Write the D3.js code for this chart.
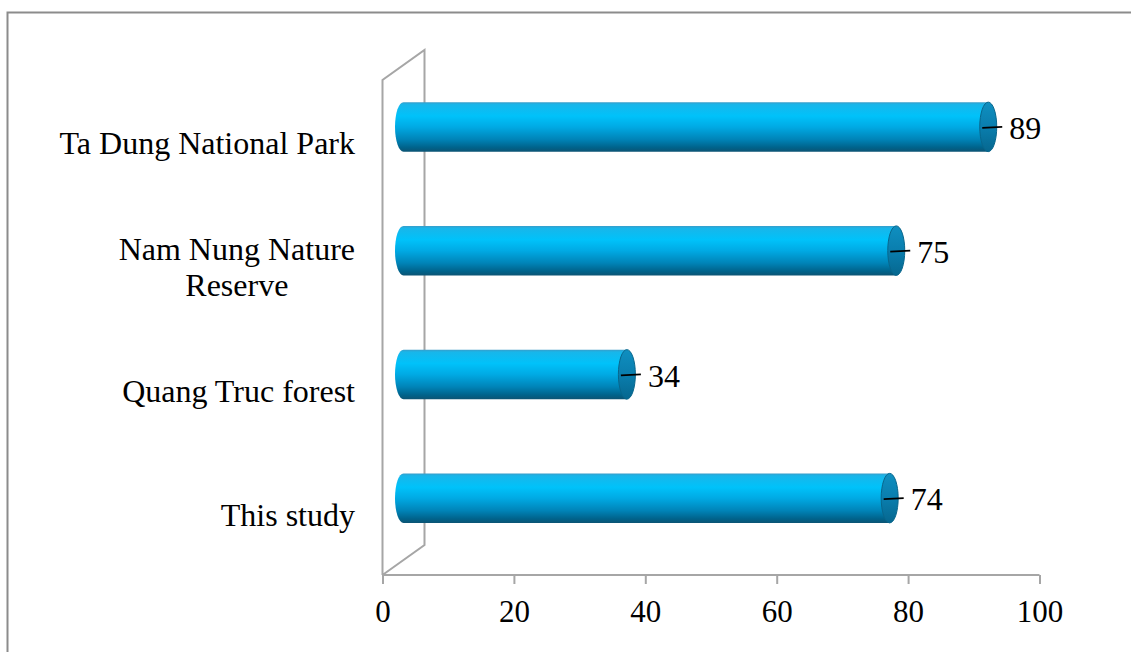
<!DOCTYPE html>
<html>
<head>
<meta charset="utf-8">
<script src="https://cdn.jsdelivr.net/npm/d3@7"></script>
<style>
  html, body { margin: 0; padding: 0; background: #fff; }
  svg { display: block; }
  text { font-family: "Liberation Serif", "Times New Roman", serif; fill: #000; }
</style>
</head>
<body>
<svg id="chart" width="1131" height="652"></svg>
<script>
// Number of species recorded at each site
const categories = ["Ta Dung National Park", "Nam Nung Nature Reserve", "Quang Truc forest", "This study"];
const labelLines = [["Ta Dung National Park"], ["Nam Nung Nature", "Reserve"], ["Quang Truc forest"], ["This study"]];
const values = [89, 75, 34, 74];
const tickValues = [0, 20, 40, 60, 80, 100];

const svg = d3.select("#chart");
const W = 1131, H = 652;

// Plot frame (front plane) and 3-D depth offset
const plot = { left: 382.5, right: 1039.5, top: 80, bottom: 575 };
const depth = { dx: 42, dy: -30 };
const mid = { dx: depth.dx / 2, dy: depth.dy / 2 };

const x = d3.scaleLinear().domain([0, 100]).range([plot.left, plot.right]);
const y = d3.scaleBand().domain(categories).range([plot.top, plot.bottom]);
const barH = y.step() * 0.4;
const rx = 8.5;

// Outer chart border
svg.append("rect")
  .attr("x", 7.5).attr("y", 12.5)
  .attr("width", W + 20).attr("height", H + 20)
  .attr("fill", "none").attr("stroke", "#8c8c8c").attr("stroke-width", 2);

const defs = svg.append("defs");
const body = defs.append("linearGradient").attr("id", "barBody")
  .attr("x1", 0).attr("y1", 0).attr("x2", 0).attr("y2", 1);
[[0, "#3a9cc8"], [0.05, "#18b6ea"], [0.28, "#00c2fa"], [0.5, "#00aae4"],
 [0.75, "#0084b8"], [0.92, "#00628a"], [1, "#0c5474"]]
  .forEach(([o, c]) => body.append("stop").attr("offset", o).attr("stop-color", c));

const cap = defs.append("linearGradient").attr("id", "barCap")
  .attr("x1", 0).attr("y1", 0).attr("x2", 0).attr("y2", 1);
[[0, "#0f8fc0"], [0.5, "#0a7eae"], [1, "#06678f"]]
  .forEach(([o, c]) => cap.append("stop").attr("offset", o).attr("stop-color", c));

// Side wall of the 3-D frame
const wall = d3.line();
svg.append("path")
  .attr("d", wall([
    [plot.left, plot.bottom],
    [plot.left, plot.top],
    [plot.left + depth.dx, plot.top + depth.dy],
    [plot.left + depth.dx, plot.bottom + depth.dy],
    [plot.left, plot.bottom]
  ]))
  .attr("fill", "none").attr("stroke", "#a6a6a6").attr("stroke-width", 2)
  .attr("stroke-linejoin", "miter");

// Value axis along the floor edge
const xAxis = d3.axisBottom(x).tickValues(tickValues).tickSize(9).tickPadding(13);
const gx = svg.append("g").attr("transform", `translate(0,${plot.bottom})`).call(xAxis);
gx.select(".domain").attr("stroke", "#a6a6a6").attr("stroke-width", 2)
  .attr("d", `M${plot.left},0H${plot.right}`);
gx.selectAll(".tick line").attr("stroke", "#a6a6a6").attr("stroke-width", 2);
gx.selectAll(".tick text")
  .style("font-family", '"Liberation Serif", "Times New Roman", serif')
  .attr("font-size", 31).attr("fill", "#000").attr("dy", "0.8em");

// Category labels: each block right-aligned, its lines centred on one another
const catG = svg.append("g");
categories.forEach((c, i) => {
  const lines = labelLines[i];
  const cy = y(c) + y.bandwidth() / 2 + 2;
  const lh = 36;
  const t = catG.append("text").attr("text-anchor", "middle").attr("font-size", 32);
  const spans = lines.map((ln, j) => t.append("tspan")
    .attr("y", cy + (j - (lines.length - 1) / 2) * lh)
    .attr("dy", "0.33em")
    .text(ln));
  const maxW = d3.max(spans, s => s.node().getComputedTextLength());
  spans.forEach(s => s.attr("x", 355 - maxW / 2));
});

// Cylinder bars, set back half-way into the depth
const bars = svg.append("g").selectAll("g.bar")
  .data(categories.map((c, i) => ({ c, v: values[i] })))
  .join("g").attr("class", "bar");

bars.each(function (d) {
  const g = d3.select(this);
  const x0 = x(0) + mid.dx;
  const x1 = x(d.v) + mid.dx;
  const cy = y(d.c) + y.bandwidth() / 2 + mid.dy;
  const top = cy - barH / 2, bot = cy + barH / 2;
  const ry = barH / 2;
  const p = d3.path();
  p.moveTo(x0, top);
  p.lineTo(x1, top);
  p.lineTo(x1, bot);
  p.lineTo(x0, bot);
  g.append("path")
    .attr("d", p.toString() +
      `A${rx},${ry} 0 0 1 ${x0},${top}Z`)
    .attr("fill", "url(#barBody)");
  g.append("ellipse")
    .attr("cx", x1).attr("cy", cy).attr("rx", rx).attr("ry", ry)
    .attr("fill", "url(#barCap)")
    .attr("stroke", "#08668c").attr("stroke-width", 1);
  // Leader line and value label
  g.append("line")
    .attr("x1", x1 - 6).attr("y1", cy + 1)
    .attr("x2", x1 + 14).attr("y2", cy)
    .attr("stroke", "#000").attr("stroke-width", 1.6);
  g.append("text")
    .attr("x", x1 + 21).attr("y", cy + 1)
    .attr("dy", "0.35em").attr("font-size", 32)
    .text(d.v);
});
</script>
</body>
</html>
